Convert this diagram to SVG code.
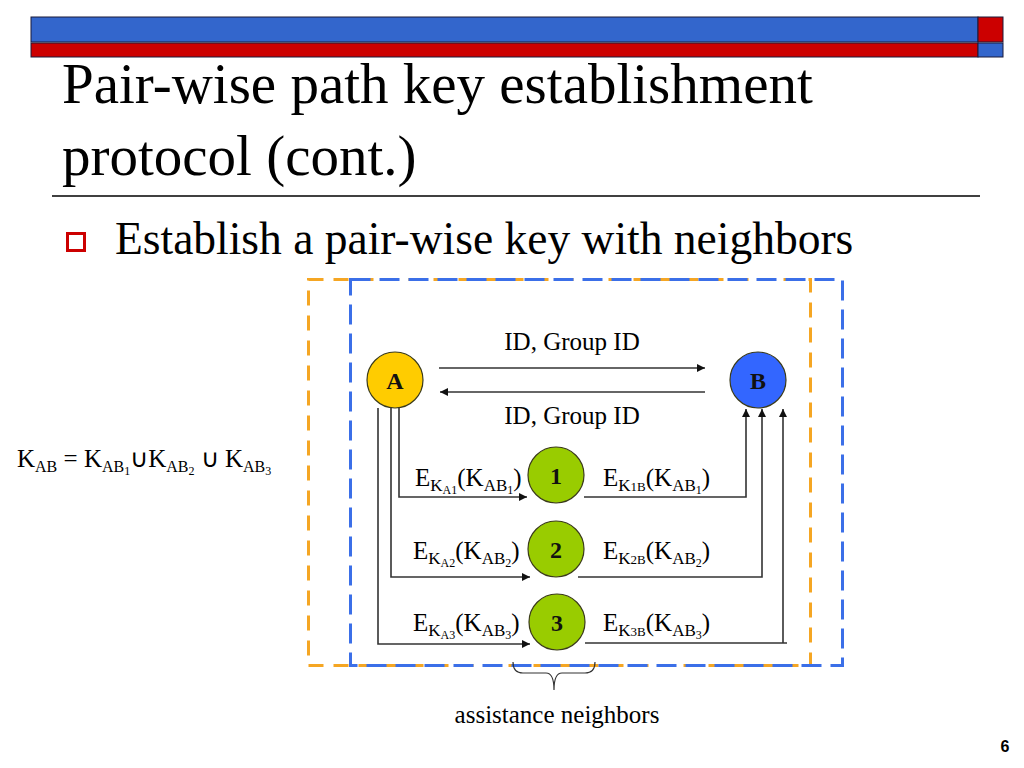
<svg xmlns="http://www.w3.org/2000/svg" width="1024" height="768" viewBox="0 0 1024 768">
<defs>
<style>
.t{font-family:"Liberation Serif","Times New Roman",serif;fill:#000}
.lbl{font-size:25px}
.s{font-size:17px}
.ss{font-size:12px}
.node{stroke:#3a3a1a;stroke-width:1.2}
.nl{font-family:"Liberation Serif","Times New Roman",serif;font-weight:bold;font-size:24px;text-anchor:middle;fill:#111}
.con{fill:none;stroke:#333;stroke-width:1.6}
</style>
<marker id="ah" viewBox="0 0 10 10" refX="10" refY="5" markerWidth="10" markerHeight="8" markerUnits="userSpaceOnUse" orient="auto">
<path d="M0,0 L10,5 L0,10 z" fill="#111"/>
</marker>
</defs>
<rect width="1024" height="768" fill="#fff"/>
<g id="header">
<rect x="31" y="17" width="947" height="25" fill="#3366CC" stroke="#1a1a3a" stroke-width="1"/>
<rect x="31" y="43" width="947" height="14" fill="#CC0000" stroke="#1a1a3a" stroke-width="1"/>
<rect x="978" y="17" width="25" height="25" fill="#CC0000" stroke="#1a1a3a" stroke-width="1"/>
<rect x="978" y="43" width="25" height="14" fill="#3366CC" stroke="#1a1a3a" stroke-width="1"/>
</g>
<g id="title">
<text class="t" x="62" y="103" font-size="57">Pair-wise path key establishment</text>
<text class="t" x="62" y="175" font-size="57">protocol (cont.)</text>
<line x1="52" y1="196" x2="980" y2="196" stroke="#000" stroke-width="1.5"/>
</g>
<g id="bullet">
<rect x="67.5" y="233.5" width="17" height="17" fill="none" stroke="#CC0000" stroke-width="3"/>
<text class="t" x="115" y="254" font-size="45.5">Establish a pair-wise key with neighbors</text>
</g>
<g id="boxes">
<rect x="308.5" y="279.5" width="502" height="386" fill="none" stroke="#F5A623" stroke-width="3" stroke-dasharray="15 10"/>
<rect x="350.5" y="279.5" width="492" height="386" fill="none" stroke="#3B6FE8" stroke-width="3" stroke-dasharray="20 9"/>
</g>
<g id="connectors">
<line class="con" x1="439" y1="368" x2="705" y2="368" marker-end="url(#ah)"/>
<line class="con" x1="705" y1="392" x2="440" y2="392" marker-end="url(#ah)"/>
<polyline class="con" points="399,408 399,497 527,497" marker-end="url(#ah)"/>
<polyline class="con" points="391,408 391,577 530,577" marker-end="url(#ah)"/>
<polyline class="con" points="378,408 378,644 530,644" marker-end="url(#ah)"/>
<polyline class="con" points="584,497 746,497 746,409" marker-end="url(#ah)"/>
<polyline class="con" points="578,577 762,577 762,409" marker-end="url(#ah)"/>
<polyline class="con" points="585,643 787,643"/>
<line class="con" x1="783" y1="643" x2="783" y2="409" marker-end="url(#ah)"/>
</g>
<g id="nodeA">
<circle class="node" cx="395" cy="380" r="28" fill="#FFCC00"/>
<text class="nl" x="395" y="389">A</text>
</g>
<g id="nodeB">
<circle class="node" cx="758" cy="380" r="28" fill="#3366FF"/>
<text class="nl" x="758" y="389">B</text>
</g>
<g id="node1">
<circle class="node" cx="556" cy="475" r="28" fill="#99CC00"/>
<text class="nl" x="556" y="484">1</text>
</g>
<g id="node2">
<circle class="node" cx="556" cy="549" r="28" fill="#99CC00"/>
<text class="nl" x="556" y="558">2</text>
</g>
<g id="node3">
<circle class="node" cx="557" cy="622" r="28" fill="#99CC00"/>
<text class="nl" x="557" y="631">3</text>
</g>
<g id="labels">
<text class="t lbl" x="572" y="350" text-anchor="middle">ID, Group ID</text>
<text class="t lbl" x="572" y="424" text-anchor="middle">ID, Group ID</text>
<text class="t lbl" x="415" y="486">E<tspan class="s" dy="5">K</tspan><tspan class="ss" dy="3">A1</tspan><tspan dy="-8">(K</tspan><tspan class="s" dy="5">AB</tspan><tspan class="ss" dy="3">1</tspan><tspan dy="-8">)</tspan></text>
<text class="t lbl" x="603" y="486">E<tspan class="s" dy="5">K</tspan><tspan font-size="13">1B</tspan><tspan dy="-5">(K</tspan><tspan class="s" dy="5">AB</tspan><tspan class="ss" dy="3">1</tspan><tspan dy="-8">)</tspan></text>
<text class="t lbl" x="413" y="559">E<tspan class="s" dy="5">K</tspan><tspan class="ss" dy="3">A2</tspan><tspan dy="-8">(K</tspan><tspan class="s" dy="5">AB</tspan><tspan class="ss" dy="3">2</tspan><tspan dy="-8">)</tspan></text>
<text class="t lbl" x="603" y="559">E<tspan class="s" dy="5">K</tspan><tspan font-size="13">2B</tspan><tspan dy="-5">(K</tspan><tspan class="s" dy="5">AB</tspan><tspan class="ss" dy="3">2</tspan><tspan dy="-8">)</tspan></text>
<text class="t lbl" x="413" y="631">E<tspan class="s" dy="5">K</tspan><tspan class="ss" dy="3">A3</tspan><tspan dy="-8">(K</tspan><tspan class="s" dy="5">AB</tspan><tspan class="ss" dy="3">3</tspan><tspan dy="-8">)</tspan></text>
<text class="t lbl" x="603" y="631">E<tspan class="s" dy="5">K</tspan><tspan font-size="13">3B</tspan><tspan dy="-5">(K</tspan><tspan class="s" dy="5">AB</tspan><tspan class="ss" dy="3">3</tspan><tspan dy="-8">)</tspan></text>
<text class="t lbl" x="17" y="467">K<tspan font-size="16" dy="5">AB</tspan><tspan dy="-5"> = K</tspan><tspan font-size="16" dy="5">AB</tspan><tspan class="ss" dy="3">1</tspan><tspan dy="-8">∪K</tspan><tspan font-size="16" dy="5">AB</tspan><tspan class="ss" dy="3">2</tspan><tspan dy="-8"> ∪ K</tspan><tspan font-size="16" dy="5">AB</tspan><tspan class="ss" dy="3">3</tspan></text>
</g>
<g id="brace">
<path d="M513,662 Q513,673 523,673 L546,673 Q554,673 554,690 Q554,673 562,673 L585,673 Q595,673 595,662" fill="none" stroke="#333" stroke-width="1.2"/>
<text class="t" x="557" y="723" font-size="25" text-anchor="middle">assistance neighbors</text>
</g>
<text x="1005" y="752" font-family="Liberation Sans, Arial, sans-serif" font-weight="bold" font-size="16" text-anchor="middle" fill="#000">6</text>
</svg>
